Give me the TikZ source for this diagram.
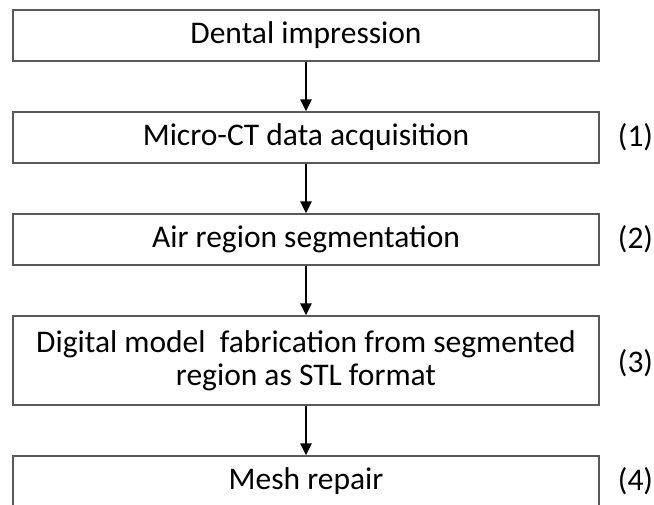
\documentclass[tikz,border=0pt]{standalone}
\usepackage{fontspec}
\setmainfont{Carlito}
\usetikzlibrary{arrows.meta}
\begin{document}
\begin{tikzpicture}[x=1pt,y=-1pt,
  stepbox/.style={draw=black!65,line width=1.3pt,minimum width=586pt,inner sep=0pt,align=center,font=\fontsize{31.5}{33}\selectfont,text=black},
  flow/.style={line width=2.8pt,-{Triangle[width=11pt,length=12pt]}},
  tag/.style={font=\fontsize{31.5}{33}\selectfont,text=black}]
\useasboundingbox (0,0) rectangle (654,504);
\node[stepbox,minimum height=51pt] (b1) at (306,35.5) {Dental impression};
\node[stepbox,minimum height=51pt] (b2) at (306,137.5) {Micro-CT data acquisition};
\node[stepbox,minimum height=51pt] (b3) at (306,239.5) {Air region segmentation};
\node[stepbox,minimum height=89pt] (b4) at (306,360.5) {Digital model\ \ fabrication from segmented\\region as STL format};
\node[stepbox,minimum height=51pt] (b5) at (306,481.5) {Mesh repair};
\node[tag] (t1) at (635.5,137.5) {(1)};
\node[tag] (t2) at (635.5,239.5) {(2)};
\node[tag] (t3) at (635.5,363) {(3)};
\node[tag] (t4) at (635.5,481.5) {(4)};
\draw[flow] (b1.south) -- (b2.north);
\draw[flow] (b2.south) -- (b3.north);
\draw[flow] (b3.south) -- (b4.north);
\draw[flow] (b4.south) -- (b5.north);
\end{tikzpicture}
\end{document}
